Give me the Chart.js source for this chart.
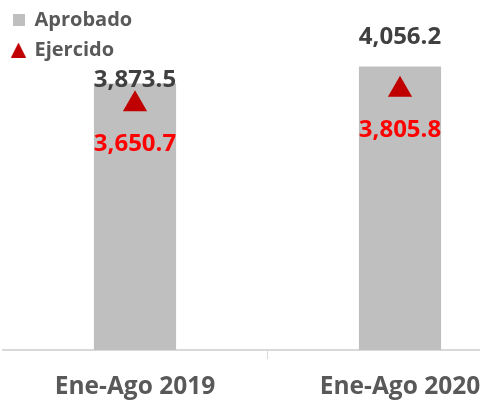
<!DOCTYPE html>
<html>
<head>
<meta charset="utf-8">
<script src="https://cdn.jsdelivr.net/npm/chart.js@4/dist/chart.umd.min.js"></script>
<style>
  html, body { margin: 0; padding: 0; background: #fff; overflow: hidden; }
  #wrap { position: relative; width: 540px; height: 402px; }
</style>
</head>
<body>
<div id="wrap"><canvas id="myChart"></canvas></div>
<script>
// data
var categories = ['Ene-Ago 2019', 'Ene-Ago 2020'];
var aprobado = [3873.5, 4056.2];
var ejercido = [3650.7, 3805.8];

function fmt(v) {
  return v.toLocaleString('en-US', {minimumFractionDigits: 1, maximumFractionDigits: 1});
}

// small legend markers
function marker(kind, color) {
  var c = document.createElement('canvas');
  c.width = kind === 'rect' ? 12 : 15;
  c.height = kind === 'rect' ? 12 : 15;
  var g = c.getContext('2d');
  g.fillStyle = color;
  if (kind === 'rect') {
    g.fillRect(0, 0, 12, 12);
  } else {
    g.beginPath();
    g.moveTo(7.5, 0);
    g.lineTo(15, 15);
    g.lineTo(0, 15);
    g.closePath();
    g.fill();
  }
  return c;
}
var legendMarks = [marker('rect', '#bfbfbf'), marker('triangle', '#c00000')];

// value labels drawn over bars and markers
var valueLabels = {
  id: 'valueLabels',
  afterDatasetsDraw: function (chart, args, opts) {
    var ctx = chart.ctx;
    ctx.save();
    ctx.font = 'bold 24px "Open Sans"';
    ctx.textAlign = 'center';
    ctx.textBaseline = 'middle';
    chart.getDatasetMeta(0).data.forEach(function (bar, i) {
      ctx.fillStyle = '#404040';
      ctx.fillText(fmt(aprobado[i]), bar.x, bar.y + opts.barOffsets[i]);
    });
    chart.getDatasetMeta(1).data.forEach(function (pt, i) {
      ctx.fillStyle = '#ff0000';
      ctx.fillText(fmt(ejercido[i]), pt.x, pt.y + opts.pointOffset);
    });
    ctx.restore();
  }
};

var ctx = document.getElementById('myChart').getContext('2d');
var myChart = new Chart(ctx, {
  type: 'bar',
  data: {
    labels: categories,
    datasets: [
      {
        label: 'Aprobado',
        data: aprobado,
        backgroundColor: '#bfbfbf',
        borderWidth: 0,
        barPercentage: 0.31,
        categoryPercentage: 1,
        order: 2
      },
      {
        label: 'Ejercido',
        type: 'line',
        data: ejercido,
        showLine: false,
        pointStyle: 'triangle',
        pointRadius: 14,
        pointHoverRadius: 14,
        backgroundColor: '#c00000',
        borderColor: '#c00000',
        borderWidth: 0,
        order: 1
      }
    ]
  },
  options: {
    responsive: true,
    maintainAspectRatio: false,
    animation: false,
    layout: { autoPadding: false, padding: { left: 2.5, right: 7.5, top: 0, bottom: 0 } },
    plugins: {
      legend: {
        position: 'chartArea',
        align: 'start',
        labels: {
          usePointStyle: true,
          pointStyleWidth: 12,
          boxHeight: 12,
          padding: 10,
          color: '#595959',
          font: { family: 'Open Sans', size: 20, weight: 'bold' },
          sort: function (a, b) { return a.datasetIndex - b.datasetIndex; },
          generateLabels: function (chart) {
            var items = Chart.defaults.plugins.legend.labels.generateLabels(chart);
            items.forEach(function (it) { it.pointStyle = legendMarks[it.datasetIndex]; });
            return items;
          }
        }
      },
      tooltip: { enabled: false },
      valueLabels: { barOffsets: [-3, -29], pointOffset: 40 }
    },
    scales: {
      x: {
        border: { color: '#d9d9d9', width: 2 },
        grid: {
          drawOnChartArea: false,
          tickLength: 9,
          color: function (c) { return c.index === 1 ? '#d9d9d9' : 'rgba(0,0,0,0)'; }
        },
        ticks: {
          color: '#595959',
          padding: 13,
          font: { family: 'Open Sans', size: 24.5, weight: 'bold' }
        },
        afterFit: function (scale) { scale.height = 52; }
      },
      y: { display: false, min: 1000, max: 4774 }
    }
  },
  plugins: [valueLabels]
});
</script>
</body>
</html>
